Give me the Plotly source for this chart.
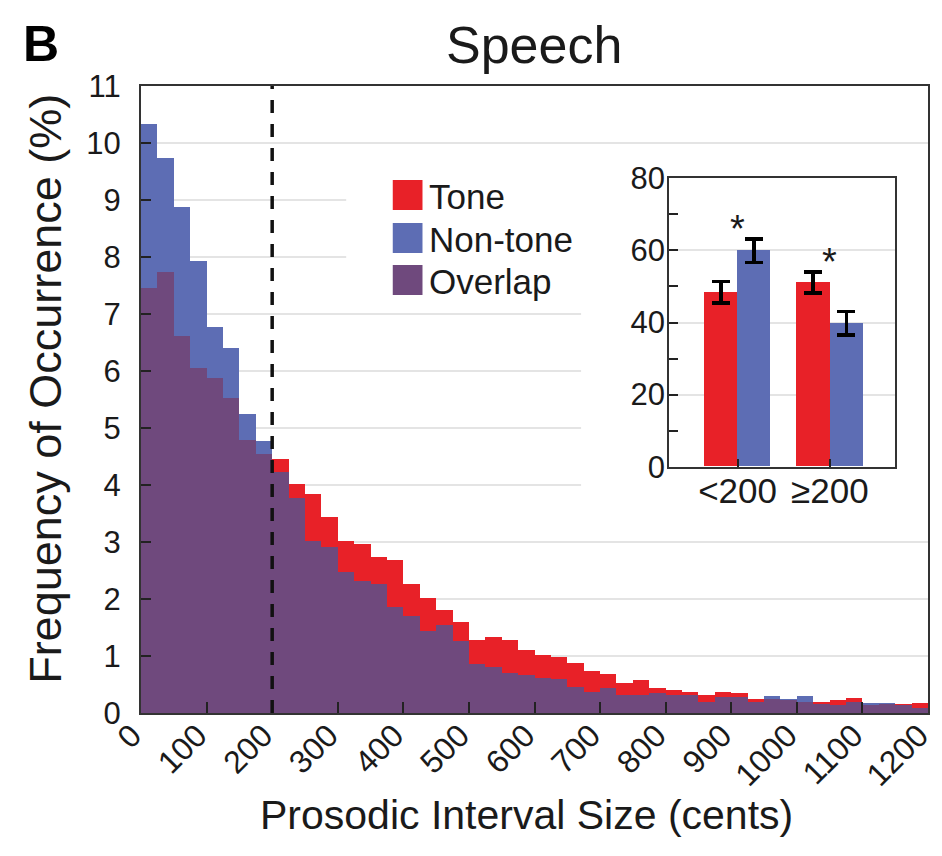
import plotly.graph_objects as go

# ---------------- data ----------------
BIN_WIDTH = 25  # cents
bin_left = list(range(0, 1200, BIN_WIDTH))

tone = [7.46, 7.74, 6.61, 6.05, 5.87, 5.53, 4.79, 4.54,
        4.45, 4.02, 3.84, 3.44, 3.02, 2.96, 2.74, 2.68, 2.27, 2.01, 1.81, 1.59,
        1.28, 1.34, 1.28, 1.11, 1.02, 0.98, 0.87, 0.73, 0.68, 0.52,
        0.58, 0.44, 0.40, 0.37, 0.32, 0.36, 0.35, 0.24, 0.24, 0.23,
        0.20, 0.20, 0.23, 0.26, 0.14, 0.16, 0.15, 0.18]

non_tone = [10.33, 9.74, 8.88, 7.93, 6.77, 6.41, 5.24, 4.77,
            4.22, 3.77, 3.02, 2.92, 2.48, 2.32, 2.27, 1.86, 1.70, 1.44, 1.55, 1.27,
            0.86, 0.80, 0.70, 0.67, 0.62, 0.59, 0.46, 0.36, 0.43, 0.32,
            0.32, 0.35, 0.32, 0.31, 0.20, 0.28, 0.28, 0.20, 0.30, 0.24,
            0.30, 0.16, 0.14, 0.20, 0.17, 0.17, 0.14, 0.08]

overlap = [min(a, b) for a, b in zip(tone, non_tone)]

THRESHOLD = 200  # cents (dashed line)
x_ticks = list(range(0, 1300, 100))
y_ticks = list(range(0, 12))

# inset
inset_categories = ["<200", "≥200"]
inset_tone = [48.4, 51.1]
inset_non_tone = [59.9, 39.8]
inset_tone_err = [3.0, 2.9]
inset_non_tone_err = [3.2, 3.3]
inset_y_ticks = [0, 20, 40, 60, 80]

RED = "#E82128"
BLUE = "#5D6DB4"
PURPLE = "#6F497D"
FONT = "Liberation Sans, Arial, sans-serif"
TXT = "#1a1a1a"

# ---------------- geometry helpers (layout only) ----------------
W, H = 942, 856
ML, MR, MT, MB = 141, 7, 86, 143
PW, PH = W - ML - MR, H - MT - MB


def px(xp):
    return (xp - ML) / PW


def py(yp):
    return (H - MB - yp) / PH


fig = go.Figure()

# main histogram
fig.add_trace(go.Bar(x=bin_left, y=tone, width=BIN_WIDTH, offset=0,
                     marker=dict(color=RED, line=dict(width=0)), name="Tone",
                     xaxis="x", yaxis="y"))
fig.add_trace(go.Bar(x=bin_left, y=non_tone, width=BIN_WIDTH, offset=0,
                     marker=dict(color=BLUE, line=dict(width=0)), name="Non-tone",
                     xaxis="x", yaxis="y"))
fig.add_trace(go.Bar(x=bin_left, y=overlap, width=BIN_WIDTH, offset=0,
                     marker=dict(color=PURPLE, line=dict(width=0)), name="Overlap",
                     xaxis="x", yaxis="y"))

# inset bars
inset_x = list(range(len(inset_categories)))
BW = 0.36
fig.add_trace(go.Bar(x=inset_x, y=inset_tone, width=BW, offset=-BW,
                     marker=dict(color=RED, line=dict(width=0)),
                     error_y=dict(type="data", array=inset_tone_err, color="black",
                                  thickness=3.5, width=9),
                     xaxis="x2", yaxis="y2", showlegend=False))
fig.add_trace(go.Bar(x=inset_x, y=inset_non_tone, width=BW, offset=0,
                     marker=dict(color=BLUE, line=dict(width=0)),
                     error_y=dict(type="data", array=inset_non_tone_err, color="black",
                                  thickness=3.5, width=9),
                     xaxis="x2", yaxis="y2", showlegend=False))

shapes = []
# white boxes behind legend and inset (hide gridlines)
shapes.append(dict(type="rect", xref="x", yref="y", layer="between",
                   x0=(348 - ML) / PW * 1200, x1=(590 - ML) / PW * 1200,
                   y0=(H - MB - 305) / PH * 11, y1=(H - MB - 160) / PH * 11,
                   fillcolor="white", line=dict(width=0)))
shapes.append(dict(type="rect", xref="x", yref="y", layer="between",
                   x0=(585 - ML) / PW * 1200, x1=1200,
                   y0=(H - MB - 535) / PH * 11, y1=(H - MB - 150) / PH * 11,
                   fillcolor="white", line=dict(width=0)))
# dashed threshold
shapes.append(dict(type="line", xref="x", yref="y", x0=THRESHOLD, x1=THRESHOLD,
                   y0=0, y1=11, line=dict(color="#111", width=3.5, dash="13px,11px"),
                   layer="above"))

annotations = []
# custom legend
leg = [("Tone", RED, 195), ("Non-tone", BLUE, 238), ("Overlap", PURPLE, 280)]
for name, col, yc in leg:
    shapes.append(dict(type="rect", xref="paper", yref="paper",
                       x0=px(395), x1=px(425), y0=py(yc + 15), y1=py(yc - 15),
                       fillcolor=col, line=dict(width=0), layer="above"))
    annotations.append(dict(text=name, xref="paper", yref="paper", x=px(430), y=py(yc + 1),
                            xanchor="left", yanchor="middle", showarrow=False,
                            font=dict(family=FONT, size=35, color=TXT)))

# significance asterisks
for i in range(len(inset_categories)):
    top = max(inset_tone[i] + inset_tone_err[i], inset_non_tone[i] + inset_non_tone_err[i])
    annotations.append(dict(text="*", xref="x2", yref="y2", x=inset_x[i], y=top + 5,
                            xanchor="center", yanchor="middle", yshift=-8, showarrow=False,
                            font=dict(family=FONT, size=38, color=TXT)))

# titles
annotations.append(dict(text="Speech", xref="paper", yref="paper", x=px(537), y=py(45),
                        xanchor="center", yanchor="middle", showarrow=False,
                        font=dict(family=FONT, size=52, color=TXT)))
annotations.append(dict(text="<b>B</b>", xref="paper", yref="paper", x=px(20), y=py(44),
                        xanchor="left", yanchor="middle", showarrow=False,
                        font=dict(family=FONT, size=50, color="#000")))
annotations.append(dict(text="Frequency of Occurrence (%)", xref="paper", yref="paper",
                        x=px(44), y=py(389), textangle=-90, xanchor="center",
                        yanchor="middle", showarrow=False,
                        font=dict(family=FONT, size=45, color=TXT)))
annotations.append(dict(text="Prosodic Interval Size (cents)", xref="paper", yref="paper",
                        x=px(530), y=py(815), xanchor="center", yanchor="middle",
                        showarrow=False, font=dict(family=FONT, size=41, color=TXT)))

axis_line = "#333"
fig.update_layout(
    width=W, height=H,
    margin=dict(l=ML, r=MR, t=MT, b=MB, pad=0),
    paper_bgcolor="white", plot_bgcolor="white",
    barmode="overlay", bargap=0,
    showlegend=False,
    font=dict(family=FONT, color=TXT),
    shapes=shapes, annotations=annotations,
    xaxis=dict(domain=[0, 1], range=[0, 1200], tickvals=x_ticks, tickangle=-45,
               ticks="inside", ticklen=11, tickwidth=2, tickcolor="#222",
               showgrid=False, zeroline=False, showline=True, mirror=True,
               linecolor=axis_line, linewidth=2, ticklabelstandoff=-11,
               ticklabelshift=-9, ticklabeloverflow="allow",
               tickfont=dict(family=FONT, size=32, color=TXT)),
    yaxis=dict(domain=[0, 1], range=[0, 11], tickvals=y_ticks,
               ticks="inside", ticklen=10, tickwidth=2, tickcolor="#222",
               showgrid=True, gridcolor="#e4e4e4", gridwidth=1.5,
               zeroline=False, showline=True, mirror=True,
               linecolor=axis_line, linewidth=2, ticklabelstandoff=12,
               tickfont=dict(family=FONT, size=31, color=TXT)),
    xaxis2=dict(domain=[px(674), px(902)], anchor="y2", range=[-0.74, 1.71],
                tickvals=inset_x, ticktext=inset_categories,
                ticks="inside", ticklen=8, tickwidth=2, tickcolor="#222",
                showgrid=False, zeroline=False, showline=True, mirror=True,
                linecolor=axis_line, linewidth=2, ticklabelstandoff=-8,
                tickfont=dict(family=FONT, size=35, color=TXT)),
    yaxis2=dict(domain=[py(466.7), py(178.3)], anchor="x2", range=[0, 80],
                tickvals=inset_y_ticks, ticks="inside", ticklen=9, tickwidth=2,
                tickcolor="#222", minor=dict(dtick=10, ticks="inside", ticklen=9,
                                             tickwidth=2, tickcolor="#222", showgrid=False),
                showgrid=True, gridcolor="#e4e4e4", gridwidth=1.5,
                zeroline=False, showline=True, mirror=True,
                linecolor=axis_line, linewidth=2, ticklabelstandoff=-4,
                tickfont=dict(family=FONT, size=31, color=TXT)),
)

fig.write_html("out.html")
